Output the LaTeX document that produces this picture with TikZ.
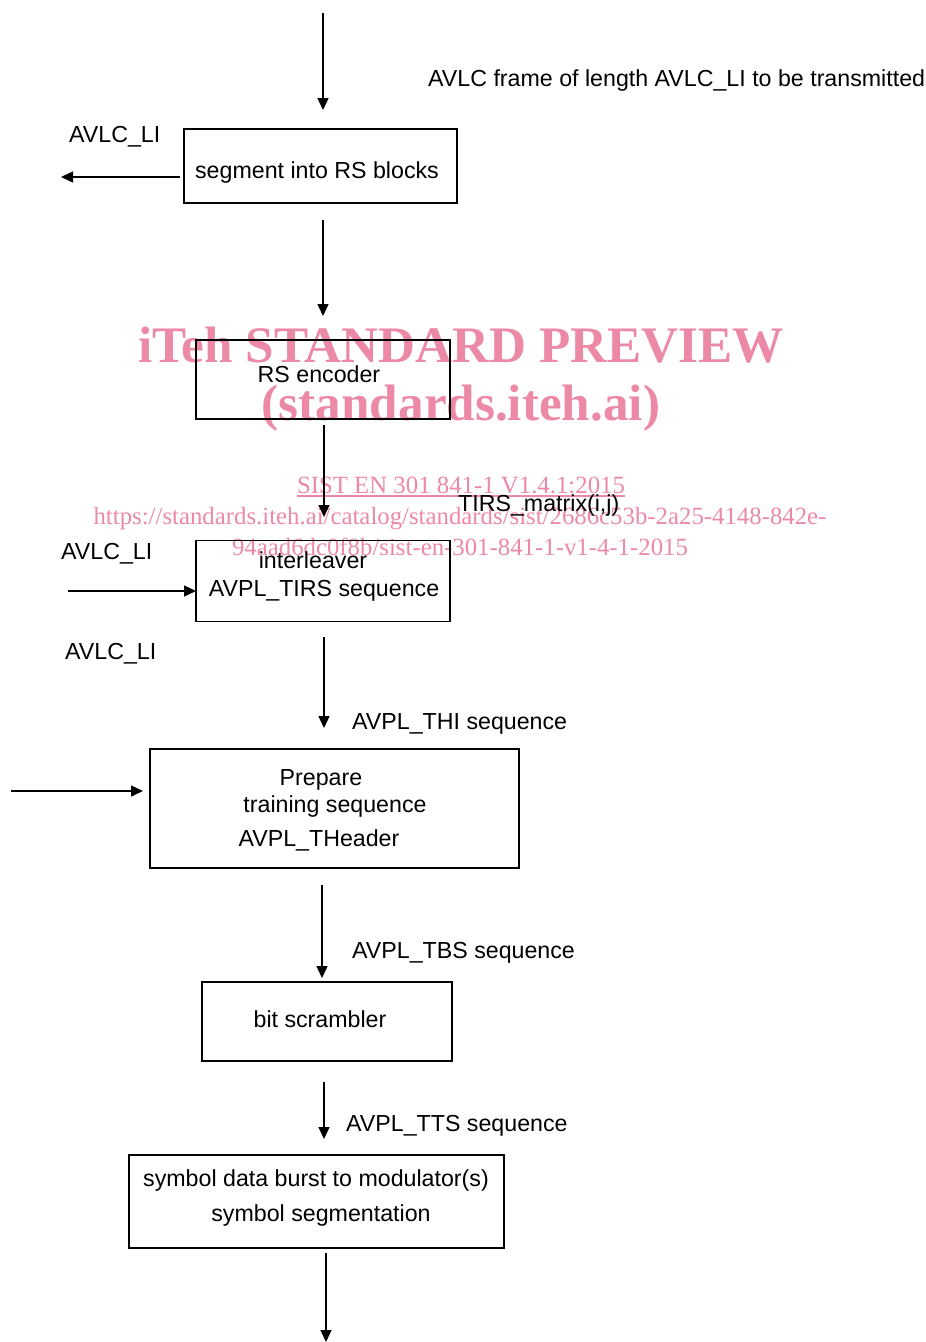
\documentclass[tikz,border=0pt]{standalone}
\usepackage{fontspec}
\setmainfont{Liberation Sans}
\newfontfamily\wmfont{Liberation Serif}
\usetikzlibrary{arrows.meta}
\definecolor{wmpink}{RGB}{236,137,166}
\tikzset{
  box/.style={draw,line width=1.9pt,inner sep=0pt},
  lbl/.style={inner sep=0pt,font=\fontsize{23.2}{27}\selectfont},
  arr/.style={line width=1.4pt,-{Triangle[length=12pt,width=11pt]}},
  wmbig/.style={inner sep=0pt,text=wmpink,font=\wmfont\bfseries\fontsize{51.2}{56}\selectfont},
  wmsmall/.style={inner sep=0pt,text=wmpink,font=\wmfont\fontsize{24.8}{28}\selectfont},
}
\begin{document}
\begin{tikzpicture}[x=1pt,y=-1pt]
\useasboundingbox (0,0) rectangle (926,1342);
% watermark
\node[wmbig,anchor=base] (wm1) at (461,362) {iTeh STANDARD PREVIEW};
\node[wmbig,anchor=base] (wm2) at (461,420) {(standards.iteh.ai)};
\node[wmsmall,anchor=base] (wm3) at (461,493) {SIST EN 301 841-1 V1.4.1:2015};
\draw[wmpink,line width=1.2pt] ([yshift=-3pt]wm3.base west) -- ([yshift=-3pt]wm3.base east);
\node[wmsmall,anchor=base] (wm4) at (460,524) {https://standards.iteh.ai/catalog/standards/sist/2686c53b-2a25-4148-842e-};
\node[wmsmall,anchor=base] (wm5) at (460,555) {94aad6dc0f8b/sist-en-301-841-1-v1-4-1-2015};
% boxes
\node[box,minimum width=273pt,minimum height=74pt] (seg) at (320.5,166) {};
\node[box,minimum width=254pt,minimum height=79pt] (rs) at (323,379.5) {};
\node[box,minimum width=254pt,minimum height=81pt] (il) at (323,581) {};
\node[box,minimum width=369pt,minimum height=119pt] (prep) at (334.5,808.5) {};
\node[box,minimum width=250pt,minimum height=79pt] (bs) at (327,1021.5) {};
\node[box,minimum width=375pt,minimum height=93pt] (sym) at (316.5,1201.5) {};
% box texts
\node[lbl,anchor=base] (tseg) at (317,178) {segment into RS blocks};
\node[lbl,anchor=base] (trs) at (319,382) {RS encoder};
\node[lbl,anchor=base] (til1) at (313,568) {interleaver};
\node[lbl,anchor=base] (til2) at (324,596) {AVPL\_TIRS sequence};
\node[lbl,anchor=base] (tp1) at (321,785) {Prepare};
\node[lbl,anchor=base] (tp2) at (335,812) {training sequence};
\node[lbl,anchor=base] (tp3) at (319,846) {AVPL\_THeader};
\node[lbl,anchor=base] (tbs) at (320,1027) {bit scrambler};
\node[lbl,anchor=base] (ts1) at (316,1186) {symbol data burst to modulator(s)};
\node[lbl,anchor=base] (ts2) at (321,1221) {symbol segmentation};
% labels
\node[lbl,anchor=base west] (l1) at (428,86) {AVLC frame of length AVLC\_LI to be transmitted};
\node[lbl,anchor=base west] (l2) at (69,142) {AVLC\_LI};
\node[lbl,anchor=base west] (l3) at (458,511) {TIRS\_matrix(i,j)};
\node[lbl,anchor=base west] (l4) at (61,559) {AVLC\_LI};
\node[lbl,anchor=base west] (l5) at (65,659) {AVLC\_LI};
\node[lbl,anchor=base west] (l6) at (352,729) {AVPL\_THI sequence};
\node[lbl,anchor=base west] (l7) at (352,958) {AVPL\_TBS sequence};
\node[lbl,anchor=base west] (l8) at (346,1131) {AVPL\_TTS sequence};
% connector ends
\coordinate (a1s) at (323,13);   \coordinate (a1e) at (323,110);
\coordinate (a2s) at (180,177);  \coordinate (a2e) at (61,177);
\coordinate (a3s) at (323,220);  \coordinate (a3e) at (323,316);
\coordinate (a4s) at (324,425);  \coordinate (a4e) at (324,517);
\coordinate (a5s) at (68,591);   \coordinate (a5e) at (196,591);
\coordinate (a6s) at (324,637);  \coordinate (a6e) at (324,728);
\coordinate (a7s) at (11,791);   \coordinate (a7e) at (143,791);
\coordinate (a8s) at (322,885);  \coordinate (a8e) at (322,978);
\coordinate (a9s) at (324,1082); \coordinate (a9e) at (324,1139);
\coordinate (a10s) at (326,1253); \coordinate (a10e) at (326,1342);
\draw[arr] (a1s) -- (a1e);
\draw[arr] (a2s) -- (a2e);
\draw[arr] (a3s) -- (a3e);
\draw[arr] (a4s) -- (a4e);
\draw[arr] (a5s) -- (a5e);
\draw[arr] (a6s) -- (a6e);
\draw[arr] (a7s) -- (a7e);
\draw[arr] (a8s) -- (a8e);
\draw[arr] (a9s) -- (a9e);
\draw[arr] (a10s) -- (a10e);
\end{tikzpicture}
\end{document}
